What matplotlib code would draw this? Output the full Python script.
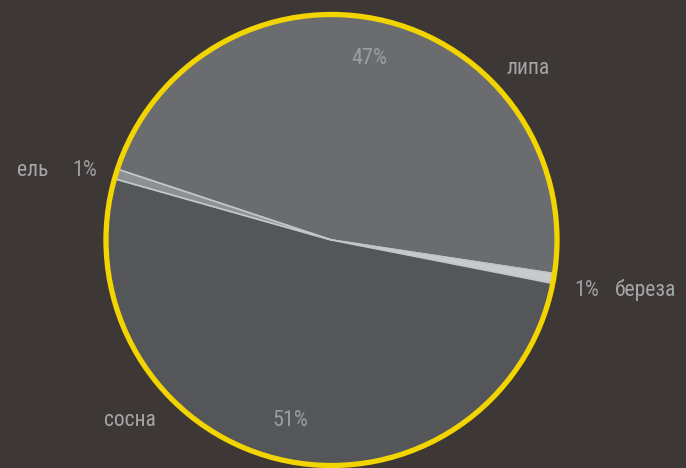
import matplotlib
matplotlib.use("Agg")
import matplotlib.pyplot as plt
from matplotlib import font_manager
from matplotlib.ft2font import FT2Font
from matplotlib.patches import Circle

# data (clockwise from the upper-left edge of "липа")
species = ["липа", "береза", "сосна", "ель"]
shares = [47.3, 0.7, 51.3, 0.7]
slice_colors = ["#6b6c70", "#c9cacc", "#55565a", "#8e8f92"]

# label spots in pixel coords (x, y from top) - name, then percent
name_pos = [(528, 68), (646, 290), (130, 420), (33, 170)]
pct_pos = [(369, 58), (587, 290), (290, 421), (85, 170)]

W, H = 686, 468
bg = "#3d3735"


def narrow_font():
    # a narrow/condensed regular face that also has cyrillic
    hits = []
    for f in font_manager.fontManager.ttflist:
        if f.style != "normal" or f.weight not in (400, "normal", "regular"):
            continue
        if f.stretch in ("normal", 500) and "Narrow" not in f.name and "Condensed" not in f.name:
            continue
        try:
            if ord("л") not in FT2Font(f.fname).get_charmap():
                continue
        except Exception:
            continue
        hits.append(f)
    order = ["Liberation Sans Narrow", "Roboto Condensed", "Open Sans Condensed", "DejaVu Sans"]
    hits.sort(key=lambda f: order.index(f.name) if f.name in order else 99)
    if hits:
        return font_manager.FontProperties(fname=hits[0].fname)
    return font_manager.FontProperties(family="DejaVu Sans")


fp = narrow_font()

fig = plt.figure(figsize=(W / 100, H / 100), dpi=100, facecolor=bg)
ax = fig.add_axes([0, 0, 1, 1])
ax.set_facecolor(bg)

cx, cy, r = 331.5, H - 240, 225.5
ax.pie(shares, colors=slice_colors, startangle=161.7, counterclock=False,
       center=(cx, cy), radius=r, frame=True,
       wedgeprops=dict(edgecolor="#c4c5c7", linewidth=1.2))
ax.set_xlim(0, W)
ax.set_ylim(0, H)
ax.set_aspect("equal")
ax.axis("off")

# yellow rim
ax.add_patch(Circle((cx, cy), r, fill=False, edgecolor="#f2d500", linewidth=3.8, zorder=5))

total = sum(shares)
for name, v, (nx, ny), (px, py) in zip(species, shares, name_pos, pct_pos):
    ax.text(nx, H - ny, name, color="#a6a6a8", fontproperties=fp, fontsize=15.5,
            ha="center", va="center")
    ax.text(px, H - py, "%d%%" % round(v / total * 100), color="#9c9da0",
            fontproperties=fp, fontsize=16, ha="center", va="center")

fig.savefig("out.png", dpi=100, facecolor=bg)
